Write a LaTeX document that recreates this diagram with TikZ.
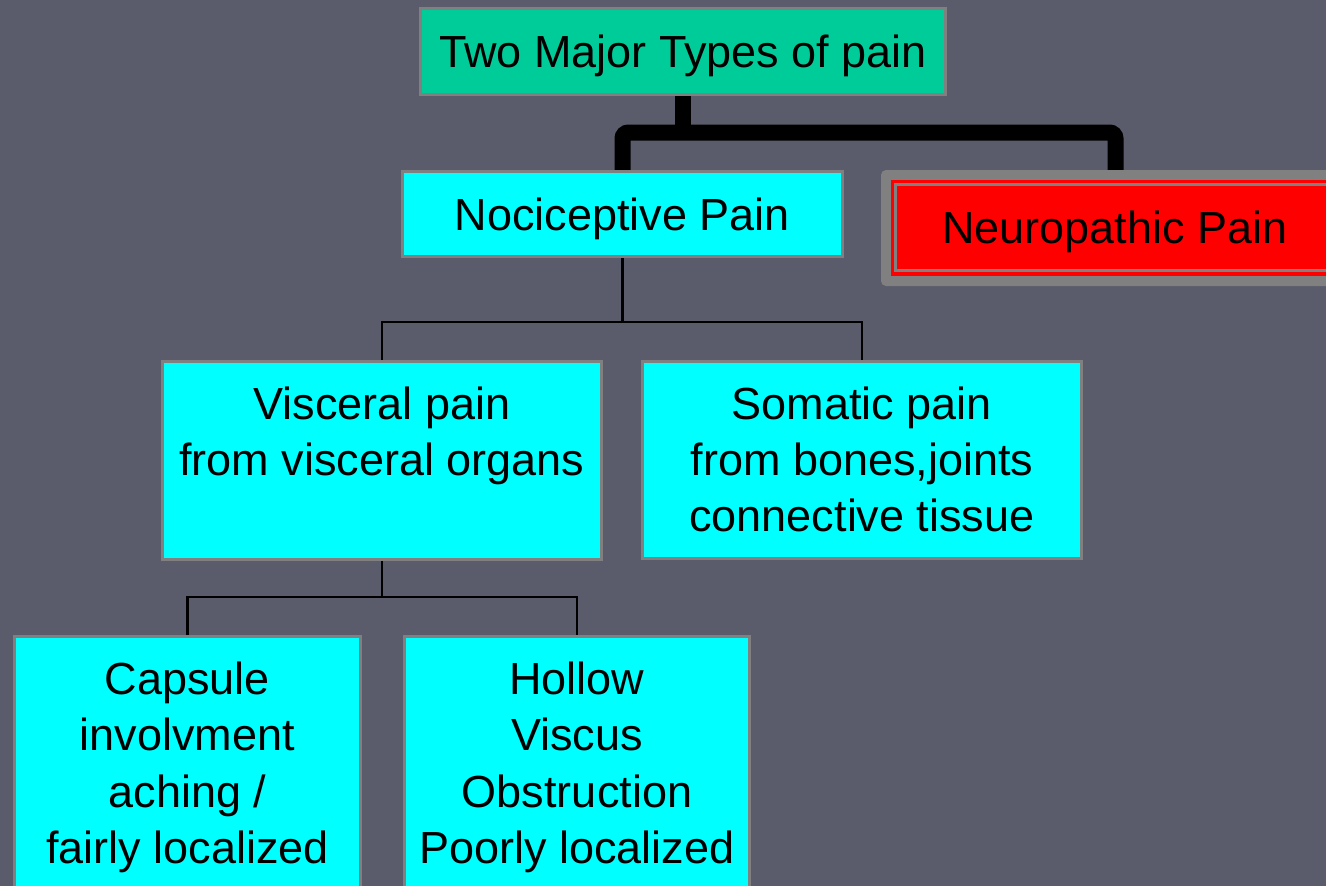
\documentclass[tikz,border=0pt]{standalone}
\usepackage{fontspec}
\setmainfont{Liberation Sans}
\definecolor{bgcol}{HTML}{5A5C6B}
\definecolor{topgreen}{HTML}{00CC99}
\definecolor{boxcyan}{HTML}{00FFFF}
\definecolor{boxred}{HTML}{FF0000}
\definecolor{boxgray}{HTML}{808080}
\pgfdeclarelayer{backlayer}
\pgfdeclarelayer{connlayer}
\pgfsetlayers{backlayer,connlayer,main}
\newcommand{\toptxt}[4]{\parbox[c][#1][t]{#2}{\centering\fontsize{45}{#3}\selectfont\rule{0pt}{57.5pt}#4\par}}
\begin{document}
\begin{tikzpicture}[x=1pt,y=-1pt,
  every node/.style={inner sep=0pt, outer sep=0pt},
  onebox/.style={draw=boxgray, line width=3pt, fill=boxcyan, font=\fontsize{45}{56}\selectfont, text height=32pt, text depth=0pt},
  multibox/.style={draw=boxgray, line width=3pt, fill=boxcyan, anchor=north west},
  neuframe/.style={fill=boxgray, rounded corners=5pt},
  neubox/.style={fill=boxred, draw=boxred, double=boxgray, double distance=3pt, line width=3.5pt, font=\fontsize{45}{56}\selectfont, text height=32pt, text depth=0pt},
  bigconn/.style={draw=black, line width=16pt},
  conn/.style={draw=black, line width=2.5pt}]
\useasboundingbox (0,0) rectangle (1326,886);
\begin{pgfonlayer}{backlayer}
\fill[bgcol] (0,0) rectangle (1326,886);
\end{pgfonlayer}

\coordinate (j0) at (683,132.5);
\coordinate (j1) at (622.5,322);
\coordinate (j2) at (382,597);

% boxes
\node[onebox, fill=topgreen, minimum width=525pt, minimum height=86pt] (top) at (683,51.5) {Two Major Types of pain};
\node[onebox, minimum width=440pt, minimum height=85pt] (noc) at (622.5,214) {Nociceptive Pain};
\node[neuframe, minimum width=469pt, minimum height=116pt] (neuf) at (1115.5,228) {};
\node[neubox, minimum width=439pt, minimum height=86pt] (neu) at (1115,227.5) {Neuropathic Pain};

\node[multibox] (visc) at (162.5,361.5) {\toptxt{198pt}{439pt}{56pt}{Visceral pain\\from visceral organs}};
\node[multibox] (som) at (642.5,361.5) {\toptxt{197pt}{439pt}{56pt}{Somatic pain\\from bones,joints\\connective tissue}};
\node[multibox] (caps) at (14.5,636.5) {\toptxt{263pt}{346pt}{56.5pt}{Capsule\\involvment\\aching /\\fairly localized}};
\node[multibox] (hol) at (404.5,636.5) {\toptxt{263pt}{345pt}{56.5pt}{Hollow\\Viscus\\Obstruction\\Poorly localized}};

% connectors
\begin{pgfonlayer}{connlayer}
\draw[bigconn, rounded corners=6pt] (noc.north) |- (j0) -| (neuf.north);
\draw[bigconn] (top.south) -- (j0);
\draw[conn] (noc.south) -- (j1);
\draw[conn] (visc.north) |- (j1) -| (som.north);
\draw[conn] (visc.south) -- (j2);
\draw[conn] (caps.north) |- (j2) -| (hol.north);
\end{pgfonlayer}
\end{tikzpicture}
\end{document}
